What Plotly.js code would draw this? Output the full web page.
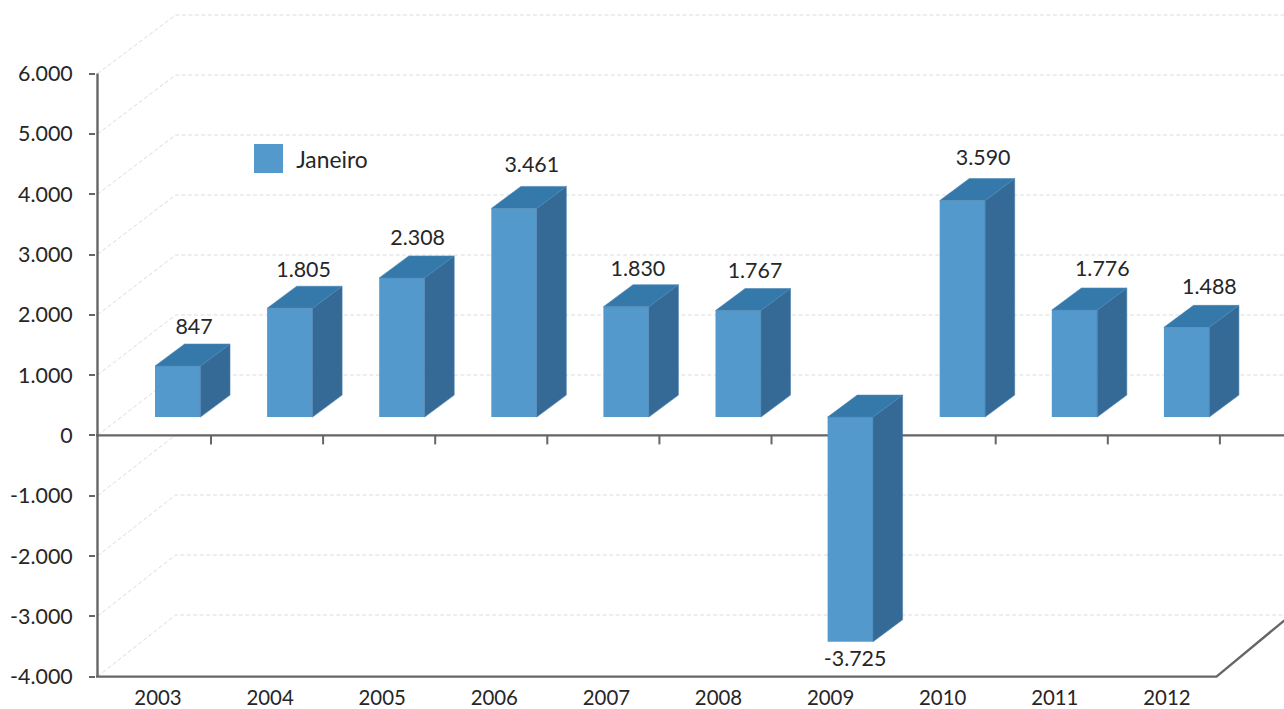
<!DOCTYPE html>
<html>
<head>
<meta charset="utf-8">
<script src="https://cdn.plot.ly/plotly-3.0.1.min.js"></script>
<style>html,body{margin:0;padding:0;background:#fff;overflow:hidden}</style>
</head>
<body>
<div id="chart" style="width:1284px;height:709px"></div>
<script>
// January results per year
const years = [2003, 2004, 2005, 2006, 2007, 2008, 2009, 2010, 2011, 2012];
const janeiro = [847, 1805, 2308, 3461, 1830, 1767, -3725, 3590, 1776, 1488];
const yTicks = [6000, 5000, 4000, 3000, 2000, 1000, 0, -1000, -2000, -3000, -4000];

// Pixel scale of the two axes
const W = 1284, H = 709;
const pxPerYear = 112.1, pxPerUnit = 0.0603;
const plotLeft = 96, plotBottom = 681, axisLeftPx = 97.5, floorPx = 676.6;
const yearAtLabelPx = 158;

const xOf = px => years[0] + (px - yearAtLabelPx) / pxPerYear;
const yOf = px => -4000 + (floorPx - px) / pxPerUnit;
const dX = px => px / pxPerYear;
const dY = px => px / pxPerUnit;

// Pseudo-3D offsets
const barLift = dY(18.3);
const barOffset = dX(-3), barWidth = dX(45.4);
const depthX = dX(29.6), depthY = dY(22);
const wallX = dX(78);
// The back wall is drawn very slightly compressed compared with the front axis
const wallPx = t => 15 + (6000 - t) * 0.06;

// Hand-placed nudges of the value labels, in pixels
const labelShiftX = [1.5, -1, 1, 3, -3, 2, -10, 6, 13, 8];
const labelShiftY = [5, 4, 6, 9, 3, 5, 8, 8, 7, 6];

const axisColor = '#666666', gridColor = '#dcdcdc';
const front = '#5499cb', topFace = '#3579ab', sideFace = '#346a95';
const fontFamily = 'Lato, "Open Sans", sans-serif';
const textColor = '#262626';

const fmt = v => {
  const s = String(Math.abs(v)).replace(/\B(?=(\d{3})+$)/g, '.');
  return (v < 0 ? '-' : '') + s;
};

// Side and top faces of each bar
const sideX = [], sideY = [], topX = [], topY = [];
years.forEach((yr, i) => {
  const v = janeiro[i];
  const xl = yr + barOffset, xr = xl + barWidth;
  const hi = barLift + Math.max(v, 0), lo = barLift + Math.min(v, 0);
  sideX.push(xr, xr, xr + depthX, xr + depthX, xr, null);
  sideY.push(lo, hi, hi + depthY, lo + depthY, lo, null);
  topX.push(xl, xr, xr + depthX, xl + depthX, xl, null);
  topY.push(hi, hi, hi + depthY, hi + depthY, hi, null);
});

// Value labels sit above the back edge, or below the front for negatives
const labelX = years.map((yr, i) => yr + barOffset + barWidth / 2 + depthX / 2 + dX(labelShiftX[i]));
const posIdx = years.map((_, i) => i).filter(i => janeiro[i] >= 0);
const negIdx = years.map((_, i) => i).filter(i => janeiro[i] < 0);

const labelFont = {family: fontFamily, size: 21.4, color: textColor};
const xTickFont = {family: fontFamily, size: 20.4, color: textColor};
const legendFont = {family: fontFamily, size: 22.8, color: textColor};

const traces = [
  {type: 'bar', x: years, y: janeiro, base: barLift, width: barWidth, offset: barOffset,
   marker: {color: front, line: {width: 0}}, name: 'Janeiro', showlegend: false, hoverinfo: 'x+text',
   text: janeiro.map(fmt), textposition: 'none'},
  {type: 'scatter', mode: 'lines', x: sideX, y: sideY, fill: 'toself', fillcolor: sideFace,
   line: {color: '#4a80ad', width: 0.6}, showlegend: false, hoverinfo: 'skip'},
  {type: 'scatter', mode: 'lines', x: topX, y: topY, fill: 'toself', fillcolor: topFace,
   line: {color: '#4a86b6', width: 0.6}, showlegend: false, hoverinfo: 'skip'},
  {type: 'scatter', mode: 'text', x: posIdx.map(i => labelX[i]),
   y: posIdx.map(i => barLift + janeiro[i] + depthY + dY(labelShiftY[i])),
   text: posIdx.map(i => fmt(janeiro[i])), textposition: 'top center', textfont: labelFont,
   showlegend: false, hoverinfo: 'skip', cliponaxis: false},
  {type: 'scatter', mode: 'text', x: negIdx.map(i => labelX[i]),
   y: negIdx.map(i => barLift + janeiro[i] - dY(labelShiftY[i])),
   text: negIdx.map(i => fmt(janeiro[i])), textposition: 'bottom center', textfont: labelFont,
   showlegend: false, hoverinfo: 'skip', cliponaxis: false},
  // Legend key and its caption
  {type: 'scatter', mode: 'markers', x: [xOf(268.5)], y: [yOf(158.5)], name: 'Janeiro',
   marker: {symbol: 'square', size: 29, color: front, line: {width: 0}},
   showlegend: false, hoverinfo: 'skip'},
  {type: 'scatter', mode: 'text', x: [xOf(296.2)], y: [yOf(162.5)],
   text: ['Janeiro'], textposition: 'middle right', textfont: legendFont,
   showlegend: false, hoverinfo: 'skip'}
];

const xStart = xOf(plotLeft), xEnd = xOf(W + 20);
const shapes = [];

// Dashed grid running along the left wall and the back wall
yTicks.forEach(t => {
  const x0 = xOf(axisLeftPx), yBack = yOf(wallPx(t));
  shapes.push({type: 'path', layer: 'below',
    path: `M ${x0} ${t} L ${x0 + wallX} ${yBack} L ${xEnd} ${yBack}`,
    line: {color: gridColor, width: 1, dash: '4px,2.5px'}});
});

// Axis lines: vertical axis, zero line, floor edge
const strongLine = {color: axisColor, width: 2.4};
shapes.push({type: 'line', layer: 'below', x0: xOf(axisLeftPx), x1: xOf(axisLeftPx), y0: 6000, y1: -4000, line: strongLine});
shapes.push({type: 'line', layer: 'below', x0: xStart, x1: xEnd, y0: 0, y1: 0, line: strongLine});
shapes.push({type: 'path', layer: 'below',
  path: `M ${xStart} -4000 L ${xOf(1216.5)} -4000 L ${xOf(1216.5) + wallX} ${yOf(wallPx(-4000) - 3)}`,
  line: strongLine});

// Tick marks hanging from the zero line, on the category boundaries
years.forEach(yr => {
  const x = yr + dX(53);
  shapes.push({type: 'line', layer: 'below', x0: x, x1: x, y0: 0, y1: -dY(9),
    line: {color: axisColor, width: 2}});
});

const layout = {
  width: W, height: H,
  margin: {l: plotLeft, r: 0, t: 0, b: H - plotBottom, pad: 0},
  paper_bgcolor: '#ffffff', plot_bgcolor: '#ffffff',
  showlegend: false,
  font: xTickFont,
  shapes: shapes,
  xaxis: {
    type: 'linear', range: [xStart, xOf(W)], tickmode: 'array', tickvals: years,
    ticktext: years.map(String), ticks: '', showgrid: false, zeroline: false, showline: false,
    tickfont: xTickFont, ticklabelstandoff: 3, fixedrange: true
  },
  yaxis: {
    type: 'linear', range: [yOf(plotBottom), yOf(0)], tickmode: 'array', tickvals: yTicks,
    ticktext: yTicks.map(fmt), ticks: 'outside', ticklen: 6, tickwidth: 2, tickcolor: axisColor,
    showgrid: false, zeroline: false, showline: false,
    tickfont: labelFont, ticklabelstandoff: 12, fixedrange: true
  }
};

Plotly.newPlot('chart', traces, layout, {displayModeBar: false, staticPlot: true});
</script>
</body>
</html>
